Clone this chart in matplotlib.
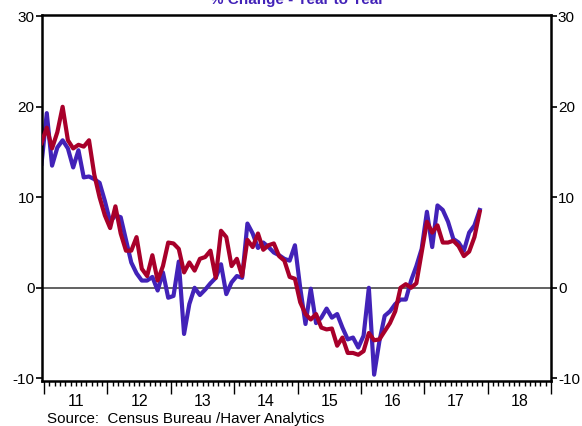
import matplotlib
matplotlib.use("Agg")
import matplotlib.pyplot as plt
import matplotlib.transforms as mtransforms
import numpy as np

plt.rcParams['font.family'] = ['Liberation Sans', 'DejaVu Sans']

# Monthly data, Dec 2010 .. Nov 2017
start_year = 2010
start_month = 12
blue_vals = [13.7, 19.3, 13.5, 15.5, 16.3, 15.4, 13.3, 15.2, 12.2, 12.3, 12.0, 11.6,
             9.6, 7.3, 8.0, 7.8, 5.3, 2.8, 1.6, 0.8, 0.8, 1.2, -0.3, 1.7,
             -1.1, -0.9, 2.9, -5.1, -1.8, 0.0, -0.8, -0.2, 0.5, 1.1, 2.6, -0.7,
             0.6, 1.3, 1.1, 7.1, 6.0, 4.4, 5.0, 4.5, 3.9, 3.6, 3.2, 3.0,
             4.7, 0.0, -4.0, -0.1, -3.9, -3.3, -2.3, -3.3, -2.9, -4.4, -5.7, -5.5,
             -6.6, -5.3, 0.0, -9.6, -5.9, -3.1, -2.6, -1.8, -1.3, -1.3, 0.8, 2.4,
             4.3, 8.4, 4.5, 9.1, 8.6, 7.3, 5.4, 5.0, 4.1, 6.1, 6.9, 8.6]
red_vals = [16.0, 17.7, 15.4, 17.2, 20.0, 16.3, 15.4, 15.8, 15.6, 16.3, 12.5, 10.0,
            8.0, 6.6, 9.0, 6.0, 4.1, 4.1, 5.6, 2.1, 1.3, 3.6, 0.8, 2.4,
            5.0, 4.9, 4.3, 1.7, 2.8, 1.9, 3.2, 3.4, 4.1, 1.1, 6.3, 5.6,
            2.4, 3.2, 1.3, 5.3, 4.5, 6.0, 4.2, 4.7, 4.9, 3.5, 3.0, 1.2,
            1.0, -1.6, -2.9, -3.5, -2.9, -4.4, -4.6, -4.5, -6.4, -5.5, -7.2, -7.2,
            -7.4, -7.0, -5.0, -5.8, -5.7, -4.8, -3.9, -2.6, 0.0, 0.4, 0.0, 0.5,
            3.9, 7.3, 6.1, 6.9, 5.0, 5.0, 5.2, 4.6, 3.5, 4.0, 5.6, 8.4]
year_labels = ['11', '12', '13', '14', '15', '16', '17', '18']
y_ticks = [-10, 0, 10, 20, 30]

n = len(blue_vals)
t = start_year + (start_month - 0.5) / 12 + np.arange(n) / 12.0

BLUE = '#4222B8'
RED = '#A8002A'

fig = plt.figure(figsize=(5.82, 4.26), dpi=100)
ax = fig.add_axes([41.5 / 582, 1 - 381 / 426, (551 - 41.5) / 582, (381 - 14.5) / 426])

ax.axhline(0, color='#555555', lw=1.3, zorder=1)
ax.plot(t, blue_vals, color=BLUE, lw=3.0, solid_joinstyle='round', zorder=2)
ax.plot(t, red_vals, color=RED, lw=3.0, solid_joinstyle='round', zorder=3)

ax.set_xlim(t[0], 2019.0)
ax.set_ylim(-10.3, 30.2)

for s in ax.spines.values():
    s.set_linewidth(1.8)
    s.set_color('black')

ax.set_yticks(y_ticks)
ax.set_yticklabels([str(v) for v in y_ticks])
ax.tick_params(axis='y', which='both', direction='out', length=4, width=1.2,
               left=True, right=True, labelleft=True, labelright=True,
               labelsize=11, pad=1)

years = np.arange(2011, 2020)
ax.set_xticks(years)
ax.set_xticklabels([''] * len(years))
months = np.array([y + m / 12.0 for y in range(2011, 2019) for m in range(1, 12)])
ax.set_xticks(months, minor=True)
ax.tick_params(axis='x', which='major', direction='out', length=9, width=1.0)
ax.tick_params(axis='x', which='minor', direction='out', length=3.5, width=1.0)

trans = mtransforms.blended_transform_factory(ax.transData, fig.transFigure)
for i, lab in enumerate(year_labels):
    ax.text(2011.5 + i, 1 - 402 / 426, lab, transform=trans, ha='center', va='center',
            fontsize=11.5)

fig.text(47 / 582, 1 - 419.5 / 426, 'Source:  Census Bureau /Haver Analytics',
         ha='left', va='center', fontsize=10.9)
fig.text(297 / 582, 1.0, '% Change - Year to Year', ha='center', va='center',
         color=BLUE, fontweight='bold', fontsize=11)

fig.savefig('out.png', dpi=100)
